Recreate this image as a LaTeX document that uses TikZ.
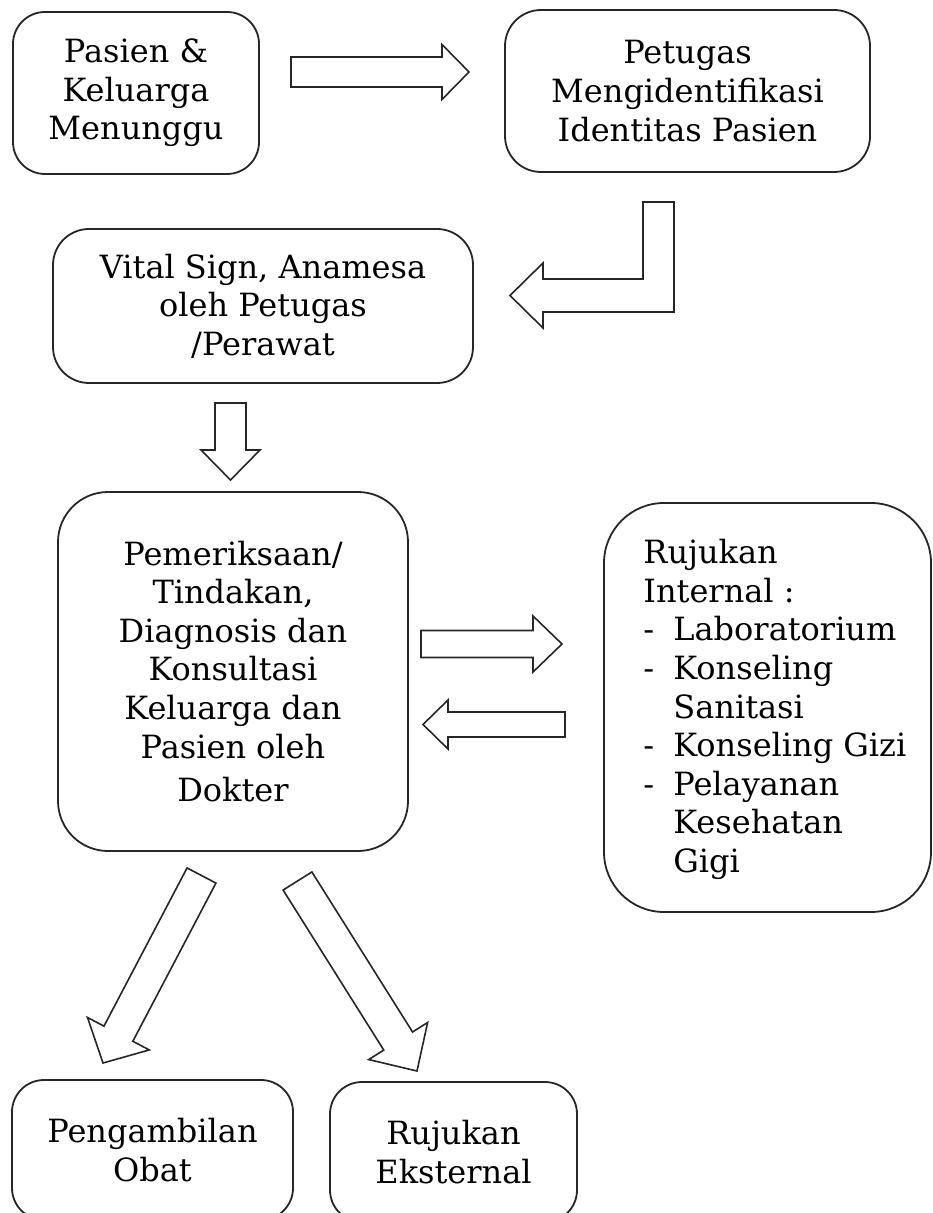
\documentclass[tikz,border=0pt]{standalone}
\usepackage{fontspec}
\setmainfont{DejaVu Serif}
\usetikzlibrary{calc}
\tikzset{
  box/.style={draw=black!85, line width=0.9pt, align=center, inner sep=0pt,
    font=\fontsize{16}{19.3}\selectfont},
  boxtext/.style={inner sep=0pt, align=left, font=\fontsize{16}{19.3}\selectfont},
  barrow/.style={draw=black!85, line width=0.8pt, fill=white, line join=miter},
}
% #1 tail, #2 tip, #3 half shaft width, #4 half head width, #5 head length
\newcommand{\blockarrow}[5]{%
  \coordinate (hb) at ($(#2)!#5!(#1)$);
  \draw[barrow] ($(#1)!#3!90:(#2)$) -- ($(hb)!#3!90:(#2)$) -- ($(hb)!#4!90:(#2)$)
    -- (#2) -- ($(hb)!#4!-90:(#2)$) -- ($(hb)!#3!-90:(#2)$) -- ($(#1)!#3!-90:(#2)$) -- cycle;
}
\begin{document}
\begin{tikzpicture}[x=0.5pt,y=-0.5pt]
\useasboundingbox (0,0) rectangle (932,1213);

\node[box, minimum width=123pt, minimum height=81pt, rounded corners=16pt] (b1) at (136,93)
  {Pasien \&\\Keluarga\\Menunggu};
\node[box, minimum width=182.5pt, minimum height=81pt, rounded corners=18pt] (b2) at (687.5,91)
  {Petugas\\Mengidentifikasi\\Identitas Pasien};
\node[box, minimum width=210pt, minimum height=77pt, rounded corners=18pt] (b3) at (263,306)
  {Vital Sign, Anamesa\\oleh Petugas\\/Perawat};
\node[box, minimum width=175pt, minimum height=179.5pt, rounded corners=25pt] (b4) at (233,671.5)
  {Pemeriksaan/\\Tindakan,\\Diagnosis dan\\Konsultasi\\Keluarga dan\\Pasien oleh\\[2.5pt]Dokter};
\node[box, minimum width=163.5pt, minimum height=204.5pt, rounded corners=30pt] (b5) at (767.5,707.5) {};
\node[boxtext, anchor=north west] (b5t) at (643,539)
  {Rujukan\\Internal :\\\makebox[15pt][l]{-}Laboratorium\\\makebox[15pt][l]{-}Konseling\\\hspace*{15pt}Sanitasi\\\makebox[15pt][l]{-}Konseling Gizi\\\makebox[15pt][l]{-}Pelayanan\\\hspace*{15pt}Kesehatan\\\hspace*{15pt}Gigi};
\node[box, minimum width=140.5pt, minimum height=70pt, rounded corners=16pt] (b6) at (152.5,1150)
  {Pengambilan\\Obat};
\node[box, minimum width=123.5pt, minimum height=70pt, rounded corners=16pt] (b7) at (453.5,1152)
  {Rujukan\\Eksternal};

% block arrows
\coordinate (a1s) at (291,72);   \coordinate (a1e) at (469,72);
\blockarrow{a1s}{a1e}{7.5pt}{13.75pt}{13.5pt}

\draw[barrow] (643,202) -- (674,202) -- (674,312) -- (543,312) -- (543,328) -- (510,295.5)
  -- (543,263) -- (543,279) -- (643,279) -- cycle;

\coordinate (a3s) at (230.5,403); \coordinate (a3e) at (230.5,480);
\blockarrow{a3s}{a3e}{7.75pt}{14.75pt}{15pt}

\coordinate (a4s) at (421,644);   \coordinate (a4e) at (562,644);
\blockarrow{a4s}{a4e}{6.75pt}{14pt}{14.5pt}

\coordinate (a5s) at (565,724.5); \coordinate (a5e) at (423,724.5);
\blockarrow{a5s}{a5e}{6.25pt}{12.25pt}{12.5pt}

\coordinate (a6s) at (201.5,875.5); \coordinate (a6e) at (103,1063);
\blockarrow{a6s}{a6e}{8.15pt}{17.45pt}{16.55pt}

\coordinate (a7s) at (297.5,881); \coordinate (a7e) at (417,1071);
\blockarrow{a7s}{a7e}{8.5pt}{17.4pt}{17.7pt}
\end{tikzpicture}
\end{document}
